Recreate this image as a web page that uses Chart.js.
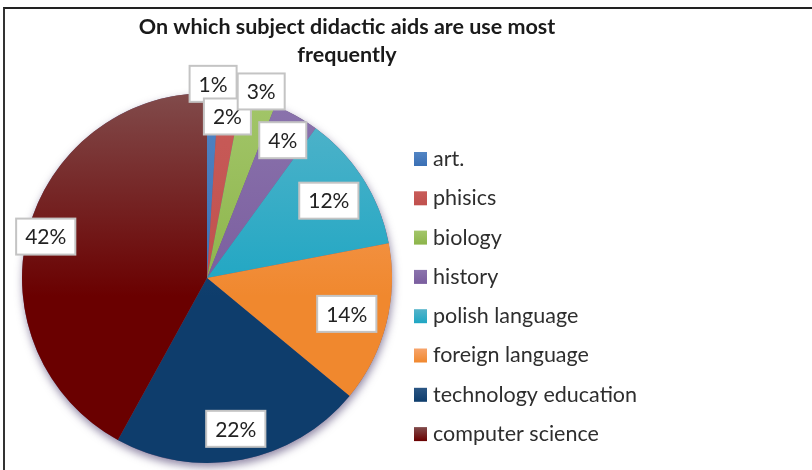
<!DOCTYPE html>
<html>
<head>
<meta charset="utf-8">
<script src="https://cdn.jsdelivr.net/npm/chart.js@4/dist/chart.umd.min.js"></script>
<style>
  html, body { margin: 0; padding: 0; background: #fff; }
  #wrap { position: relative; width: 812px; height: 470px; overflow: hidden; }
  #frame { position: absolute; left: 3px; top: 7px; right: 0; bottom: 0;
           border-top: 2px solid #222; border-left: 2px solid #333; }
  canvas { position: absolute; left: 0; top: 0; }
</style>
</head>
<body>
<div id="wrap">
  <div id="frame"></div>
  <canvas id="pie" width="812" height="470"></canvas>
</div>
<script>
// Subjects and the share of answers for each (percent)
const subjects = ['art.', 'phisics', 'biology', 'history', 'polish language',
                  'foreign language', 'technology education', 'computer science'];
const shares = [1, 2, 3, 4, 12, 14, 22, 42];
const titleLines = ['On which subject didactic aids are use most', 'frequently'];

// Slice colours: lighter tone at the top of the pie, base tone at the bottom
const topColors    = ['#5285c4', '#c85c59', '#a3c66a', '#8b74ad', '#55b4ca', '#f7a46b', '#2b5684', '#814b4b'];
const bottomColors = ['#3a6fb4', '#c0504d', '#8cb44a', '#7a5d9e', '#1ea6c3', '#f0882e', '#0e3d6c', '#6a0000'];
// Where each value box sits along its slice's middle ray (fraction of radius)
const labelReach = [1.05, 0.88, 1.05, 0.85, 0.78, 0.78, 0.83, 0.90];

const FONT = 'Lato, "Open Sans", sans-serif';

function sliceFill(ctx) {
  const chart = ctx.chart;
  const i = ctx.dataIndex;
  const area = chart.chartArea;
  if (!area) return bottomColors[i];
  const g = chart.ctx.createLinearGradient(0, area.top, 0, area.bottom);
  g.addColorStop(0, topColors[i]);
  g.addColorStop(0.55, bottomColors[i]);
  g.addColorStop(1, bottomColors[i]);
  return g;
}

// Soft drop shadow under the whole pie
const pieShadow = {
  id: 'pieShadow',
  beforeDatasetsDraw(chart) {
    const arc = chart.getDatasetMeta(0).data[0];
    if (!arc) return;
    const c = chart.ctx;
    c.save();
    c.beginPath();
    c.arc(arc.x, arc.y, arc.outerRadius, 0, Math.PI * 2);
    c.shadowColor = 'rgba(70,55,105,0.6)';
    c.shadowBlur = 9;
    c.shadowOffsetX = 1;
    c.shadowOffsetY = 4;
    c.fillStyle = '#6a5a80';
    c.fill();
    c.restore();
  }
};

// Boxed percentage labels on the slices
const valueBoxes = {
  id: 'valueBoxes',
  afterDatasetsDraw(chart) {
    const meta = chart.getDatasetMeta(0);
    const values = chart.data.datasets[0].data;
    const c = chart.ctx;
    c.save();
    c.font = '21px ' + FONT;
    c.textAlign = 'center';
    c.textBaseline = 'middle';
    meta.data.forEach((arc, i) => {
      const mid = (arc.startAngle + arc.endAngle) / 2;
      const r = arc.outerRadius * labelReach[i];
      const x = arc.x + Math.cos(mid) * r;
      const y = arc.y + Math.sin(mid) * r;
      const text = values[i] + '%';
      const w = c.measureText(text).width + 18;
      const h = 36;
      c.fillStyle = '#ffffff';
      c.fillRect(x - w / 2, y - h / 2, w, h);
      c.lineWidth = 2;
      c.strokeStyle = '#c4c4c4';
      c.strokeRect(x - w / 2, y - h / 2, w, h);
      c.fillStyle = '#222222';
      c.fillText(text, x, y + 1);
    });
    c.restore();
  }
};

// Title and legend beside the pie
const sideText = {
  id: 'sideText',
  afterDraw(chart) {
    const c = chart.ctx;
    c.save();
    c.fillStyle = '#1a1a1a';
    c.font = 'bold 21.5px ' + FONT;
    c.textAlign = 'center';
    c.textBaseline = 'middle';
    titleLines.forEach((line, k) => c.fillText(line, 347, 27 + k * 28));

    c.font = '21.5px ' + FONT;
    c.textAlign = 'left';
    chart.data.labels.forEach((label, i) => {
      const y = 159 + i * 39.3;
      const g = c.createLinearGradient(0, y - 7, 0, y + 7);
      g.addColorStop(0, topColors[i]);
      g.addColorStop(1, bottomColors[i]);
      c.fillStyle = g;
      c.fillRect(414, y - 7, 13, 14);
      c.fillStyle = '#2e2e2e';
      c.fillText(label, 433, y);
    });
    c.restore();
  }
};

new Chart(document.getElementById('pie'), {
  type: 'pie',
  data: {
    labels: subjects,
    datasets: [{
      data: shares,
      backgroundColor: sliceFill,
      borderWidth: 0
    }]
  },
  options: {
    responsive: false,
    animation: false,
    layout: { padding: { left: 22, top: 93, right: 420, bottom: 7 } },
    plugins: {
      legend: { display: false },
      title: { display: false },
      tooltip: { enabled: false }
    }
  },
  plugins: [pieShadow, valueBoxes, sideText]
});
</script>
</body>
</html>
